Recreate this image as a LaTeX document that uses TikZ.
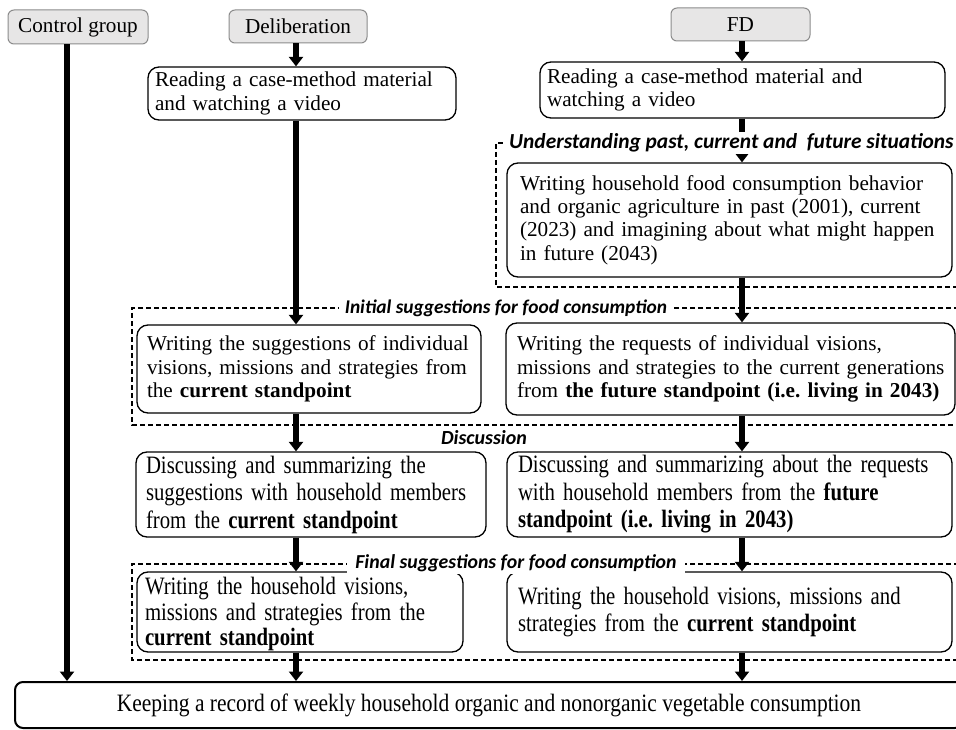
\documentclass[tikz,border=0pt]{standalone}
\usepackage{fontspec}
\setmainfont{Liberation Serif}
\newfontfamily\condserif[FakeStretch=0.83]{Liberation Serif}
\newfontfamily\condserifbot[FakeStretch=0.86]{Liberation Serif}
\newfontfamily\titlefont{Carlito}
\usetikzlibrary{arrows.meta}
\definecolor{hdrfill}{HTML}{E7E6E6}
\definecolor{hdrdraw}{HTML}{8C8C8C}
\newcommand\oneline[1]{\mbox{#1}}
\frenchspacing
\begin{document}
\begin{tikzpicture}[x=1pt,y=-1pt,
  base/.style={font=\frenchspacing\fontsize{21.2}{23.3}\selectfont},
  cbase/.style={font=\frenchspacing\condserif\fontsize{25}{27.5}\selectfont},
  hdr/.style={base,draw=hdrdraw,fill=hdrfill,rounded corners=6pt,line width=1pt,inner sep=0pt,align=center},
  box/.style={draw=black,fill=white,rounded corners=11pt,line width=1.3pt,inner sep=0pt,align=left},
  arr/.style={line width=5.5pt,-{Triangle[width=14pt,length=9.5pt]}},
  dashframe/.style={draw=black,dash pattern=on 5pt off 3pt,line width=1.1pt},
  ttl/.style={font=\titlefont\bfseries\itshape\fontsize{19.4}{22}\selectfont,fill=white,inner ysep=2pt,inner xsep=6pt},
]
\useasboundingbox (0,0) rectangle (956,730);
\fill[white] (0,0) rectangle (956,730);

% dashed group frames
\draw[dashframe] (975,143) -- (496,143) -- (496,287) -- (975,287);
\draw[dashframe] (975,308) -- (132,308) -- (132,425) -- (975,425);
\draw[dashframe] (975,564) -- (132,564) -- (132,660) -- (975,660);

% header nodes
\node[hdr,minimum width=140pt,minimum height=34pt] (cg) at (78,27) {Control group};
\node[hdr,minimum width=138pt,minimum height=33pt] (del) at (298,26.5) {Deliberation};
\node[hdr,minimum width=139pt,minimum height=33pt] (fd) at (740.5,24.5) {FD};

% column x positions
\coordinate (xC) at (67,0);
\coordinate (xD) at (296,0);
\coordinate (xF) at (742,0);

% box centres
\path (302,93.5) coordinate (pd1) (742.5,90) coordinate (pf1)
      (729.5,220) coordinate (pf2) (309,369) coordinate (pd2) (730.5,369) coordinate (pf3)
      (311,494.5) coordinate (pd3) (729.5,494.5) coordinate (pf4)
      (300,612) coordinate (pd4) (729.5,612) coordinate (pf5) (489,705) coordinate (pbot);

\node[box,base,minimum width=308pt,minimum height=53pt,text width=294pt] (d1) at (pd1)
  {\oneline{Reading a case-method material}\\\oneline{and watching a video}};
\node[box,base,minimum width=405pt,minimum height=56pt,text width=391pt] (f1) at (pf1)
  {\oneline{Reading a case-method material and}\\\oneline{watching a video}};
\node[box,base,minimum width=445pt,minimum height=114pt,text width=419pt] (f2) at (pf2)
  {\oneline{Writing household food consumption behavior}\\\oneline{and organic agriculture in past (2001), current}\\\oneline{(2023) and imagining about what might happen}\\\oneline{in future (2043)}};
\node[box,base,minimum width=344pt,minimum height=88pt,text width=324pt] (d2) at (pd2)
  {\oneline{Writing the suggestions of individual}\\\oneline{visions, missions and strategies from}\\\oneline{the \textbf{current standpoint}}};
\node[box,base,minimum width=449pt,minimum height=92pt,text width=427pt] (f3) at (pf3)
  {\oneline{Writing the requests of individual visions,}\\\oneline{missions and strategies to the current generations}\\\oneline{from \textbf{the future standpoint (i.e. living in 2043)}}};
\node[box,cbase,minimum width=350pt,minimum height=85pt,text width=330pt] (d3) at (pd3)
  {\oneline{Discussing and summarizing the}\\\oneline{suggestions with household members}\\\oneline{from the \textbf{current standpoint}}};
\node[box,cbase,minimum width=445pt,minimum height=85pt,text width=423pt] (f4) at (pf4)
  {\oneline{Discussing and summarizing about the requests}\\\oneline{with household members from the \textbf{future}}\\\oneline{\textbf{standpoint (i.e. living in 2043)}}};
\node[box,cbase,minimum width=326pt,minimum height=80pt,text width=310pt,font=\frenchspacing\condserif\fontsize{25}{25.5}\selectfont] (d4) at (pd4)
  {\rule{0pt}{22pt}\oneline{Writing the household visions,}\\\oneline{missions and strategies from the}\\\oneline{\textbf{current standpoint}}};
\node[box,minimum width=445pt,minimum height=80pt,text width=423pt,font=\frenchspacing\condserif\fontsize{25}{27.5}\selectfont] (f5) at (pf5)
  {\oneline{Writing the household visions, missions and}\\\oneline{strategies from the \textbf{current standpoint}}};
\node[box,minimum width=948pt,minimum height=46pt,align=center,rounded corners=8pt,line width=2pt,font=\condserifbot\fontsize{25}{27.5}\selectfont] (bot) at (pbot)
  {Keeping a record of weekly household organic and nonorganic vegetable consumption};

% connectors
\draw[arr] (cg.south -| xC) -- (bot.north -| xC);
\draw[arr] (del.south -| xD) -- (d1.north -| xD);
\draw[arr] (d1.south -| xD) -- (d2.north -| xD);
\draw[arr] (d2.south -| xD) -- (d3.north -| xD);
\draw[arr] (d3.south -| xD) -- (d4.north -| xD);
\draw[arr] (d4.south -| xD) -- (bot.north -| xD);
\draw[arr] (fd.south -| xF) -- (f1.north -| xF);
\draw[arr] (f1.south -| xF) -- (f2.north -| xF);
\draw[arr] (f2.south -| xF) -- (f3.north -| xF);
\draw[arr] (f3.south -| xF) -- (f4.north -| xF);
\draw[arr] (f4.south -| xF) -- (f5.north -| xF);
\draw[arr] (f5.south -| xF) -- (bot.north -| xF);

% titles
\node[ttl,anchor=west,font=\titlefont\bfseries\itshape\fontsize{21.4}{24}\selectfont] (t1) at (503,143) {Understanding past, current and\ \ future situations};
\node[ttl] (t2) at (506,308) {Initial suggestions for food consumption};
\node[ttl,fill=none,font=\titlefont\bfseries\itshape\fontsize{20}{22}\selectfont] (t3) at (484,438) {Discussion};
\node[ttl,font=\titlefont\bfseries\itshape\fontsize{19.8}{22}\selectfont,inner xsep=8pt] (t4) at (516,563) {Final suggestions for food consumption};
\end{tikzpicture}
\end{document}
